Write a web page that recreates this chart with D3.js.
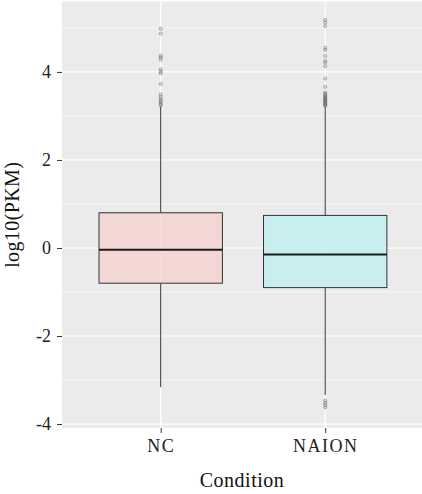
<!DOCTYPE html>
<html>
<head>
<meta charset="utf-8">
<script src="https://cdn.jsdelivr.net/npm/d3@7"></script>
<style>
  body { margin: 0; background: white; }
  text { font-family: "Liberation Serif", "DejaVu Serif", serif; }
</style>
</head>
<body>
<div id="chart"></div>
<script>
const w = 422;
const h = 494;

const categories = ['NC', 'NAION'];
const fills = ['rgb(244,210,208)', 'rgb(193,239,240)'];
const q1 = [-0.80, -0.90];
const median = [-0.04, -0.15];
const q3 = [0.80, 0.74];
const whiskerLow = [-3.16, -3.34];
const whiskerHigh = [3.22, 3.21];
const outliersNC = [4.98, 4.87, 4.37, 4.33, 4.28, 4.06, 4.01, 3.97, 3.73, 3.49, 3.43, 3.38, 3.34, 3.31, 3.27, 3.24];
const outliersNAION = [5.18, 5.12, 5.04, 4.55, 4.50, 4.36, 4.25, 4.21, 4.13, 3.85, 3.66, 3.53,
  3.50, 3.47, 3.44, 3.42, 3.40, 3.38, 3.36, 3.34, 3.32, 3.30, 3.28, 3.26, 3.24, 3.23,
  -3.47, -3.52, -3.57, -3.62];
const yTicks = [-4, -2, 0, 2, 4];
const yMinor = [-3, -1, 1, 3, 5];

const panel = {left: 62, right: 422, top: 1.5, bottom: 428};

const svg = d3.select('#chart')
              .append('svg')
              .attr('width', w)
              .attr('height', h)
              .style('background-color', 'white');

const yScale = d3.scaleLinear().domain([-4.09, 5.6]).range([panel.bottom, panel.top]);
const xScale = d3.scalePoint().domain(categories).range([160.7, 325.2]);
const step = xScale(categories[1]) - xScale(categories[0]);
const boxW = step * 0.75;

// panel background + grid
svg.append('rect')
   .attr('x', panel.left).attr('y', panel.top)
   .attr('width', panel.right - panel.left).attr('height', panel.bottom - panel.top)
   .attr('fill', '#EBEBEB');

svg.selectAll('.minor')
   .data(yMinor).enter().append('line')
   .attr('x1', panel.left).attr('x2', panel.right)
   .attr('y1', d => yScale(d)).attr('y2', d => yScale(d))
   .attr('stroke', 'white').attr('stroke-width', 0.6);

svg.selectAll('.major')
   .data(yTicks).enter().append('line')
   .attr('x1', panel.left).attr('x2', panel.right)
   .attr('y1', d => yScale(d)).attr('y2', d => yScale(d))
   .attr('stroke', 'white').attr('stroke-width', 1.2);

svg.selectAll('.vgrid')
   .data(categories).enter().append('line')
   .attr('x1', d => xScale(d)).attr('x2', d => xScale(d))
   .attr('y1', panel.top).attr('y2', panel.bottom)
   .attr('stroke', 'white').attr('stroke-width', 1.2);

const boxes = categories.map((c, i) => ({
  cat: c, fill: fills[i], q1: q1[i], med: median[i], q3: q3[i],
  lo: whiskerLow[i], hi: whiskerHigh[i]
}));

// whiskers
svg.selectAll('.whiskUp')
   .data(boxes).enter().append('line')
   .attr('x1', d => xScale(d.cat)).attr('x2', d => xScale(d.cat))
   .attr('y1', d => yScale(d.q3)).attr('y2', d => yScale(d.hi))
   .attr('stroke', '#333').attr('stroke-width', 1);
svg.selectAll('.whiskDn')
   .data(boxes).enter().append('line')
   .attr('x1', d => xScale(d.cat)).attr('x2', d => xScale(d.cat))
   .attr('y1', d => yScale(d.q1)).attr('y2', d => yScale(d.lo))
   .attr('stroke', '#333').attr('stroke-width', 1);

// boxes
svg.selectAll('.box')
   .data(boxes).enter().append('rect')
   .attr('x', d => xScale(d.cat) - boxW / 2)
   .attr('y', d => yScale(d.q3))
   .attr('width', boxW)
   .attr('height', d => yScale(d.q1) - yScale(d.q3))
   .attr('fill', d => d.fill)
   .attr('fill-opacity', 0.8)
   .attr('stroke', '#333')
   .attr('stroke-width', 1);

svg.selectAll('.median')
   .data(boxes).enter().append('line')
   .attr('x1', d => xScale(d.cat) - boxW / 2).attr('x2', d => xScale(d.cat) + boxW / 2)
   .attr('y1', d => yScale(d.med)).attr('y2', d => yScale(d.med))
   .attr('stroke', '#1a1a1a').attr('stroke-width', 2);

// outliers
const outliers = [
  ...outliersNC.map(v => ({cat: 'NC', v})),
  ...outliersNAION.map(v => ({cat: 'NAION', v}))
];
svg.selectAll('.dot')
   .data(outliers).enter().append('circle')
   .attr('cx', d => xScale(d.cat))
   .attr('cy', d => yScale(d.v))
   .attr('r', 1.6)
   .attr('fill', 'gray').attr('fill-opacity', 0.25)
   .attr('stroke', '#555').attr('stroke-opacity', 0.45).attr('stroke-width', 0.8);

// y axis
const yAxis = d3.axisLeft(yScale).tickValues(yTicks).tickSize(5).tickPadding(6)
   .tickFormat(d => String(d));
const ga = svg.append('g')
   .attr('transform', `translate(${panel.left}, 0)`)
   .call(yAxis);
ga.select('.domain').remove();
ga.selectAll('line').attr('stroke', '#333');
ga.selectAll('text').attr('font-size', '18px').attr('fill', '#222')
   .style('font-family', '"Liberation Serif", serif');

// x axis
const xAxis = d3.axisBottom(xScale).tickSize(5).tickPadding(6);
const gx = svg.append('g')
   .attr('transform', `translate(0, ${panel.bottom})`)
   .call(xAxis);
gx.select('.domain').remove();
gx.selectAll('line').attr('stroke', '#333');
gx.selectAll('text').attr('font-size', '18px').attr('fill', '#222')
   .style('font-family', '"Liberation Serif", serif')
   .attr('letter-spacing', '1.5px');

// axis titles
svg.append('text')
   .attr('x', (panel.left + panel.right) / 2)
   .attr('y', 487)
   .attr('text-anchor', 'middle')
   .attr('font-size', '20px')
   .attr('fill', '#111')
   .attr('letter-spacing', '0.5px')
   .text('Condition');

svg.append('text')
   .attr('transform', `translate(19, ${(panel.top + panel.bottom) / 2}) rotate(-90)`)
   .attr('text-anchor', 'middle')
   .attr('font-size', '20px')
   .attr('fill', '#111')
   .attr('letter-spacing', '0.4px')
   .text('log10(PKM)');
</script>
</body>
</html>
